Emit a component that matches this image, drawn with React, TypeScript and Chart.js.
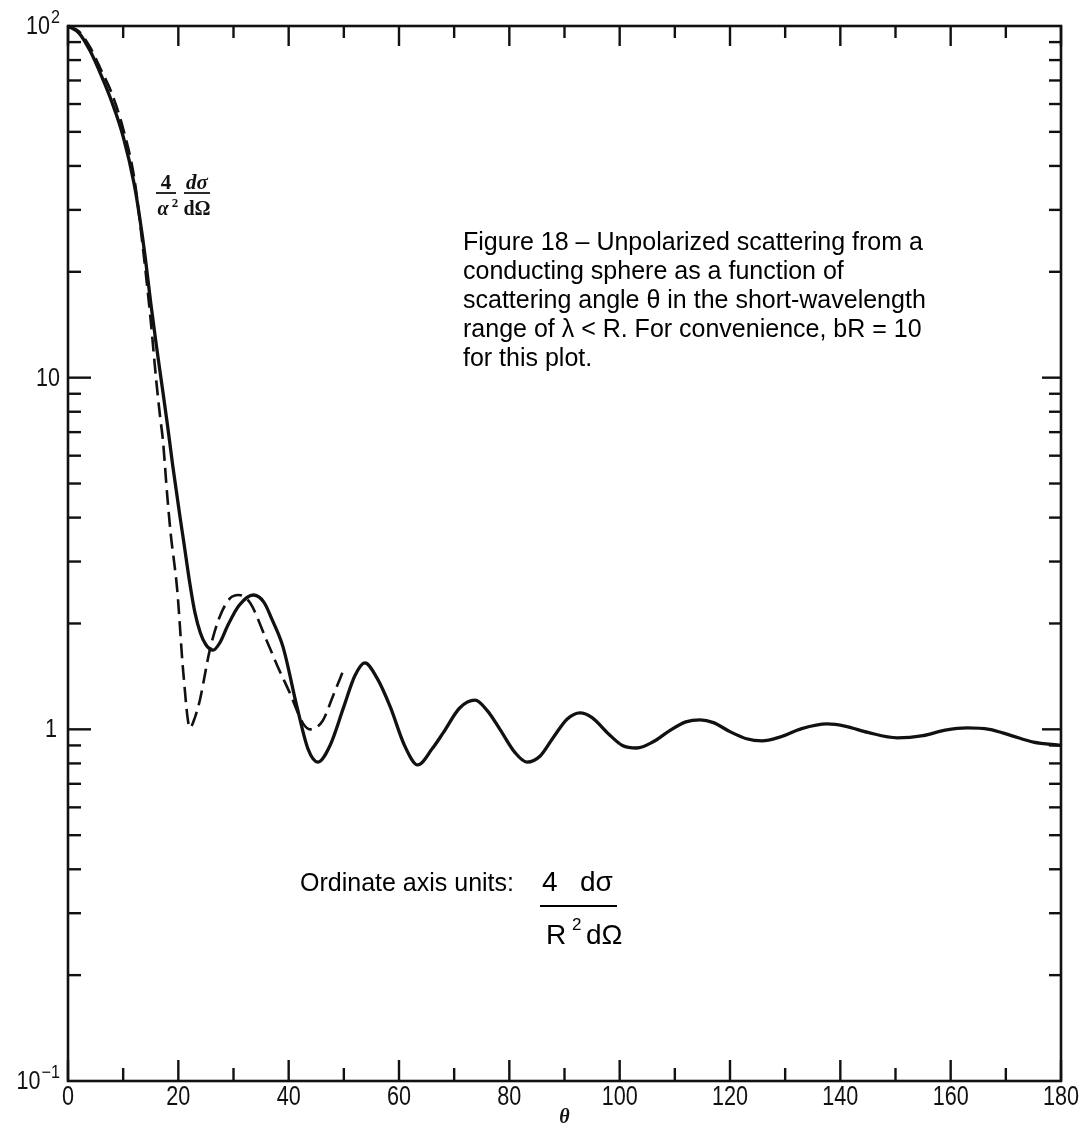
import React, { useEffect, useRef } from "react";
import { Chart, registerables } from "chart.js";

Chart.register(...registerables);

// ---- data ----
const THETA_SOLID = [0, 2, 4, 6, 8, 10, 12, 13, 14, 15, 16, 17, 18, 19, 20.3, 21, 22, 23, 24, 25, 26.3, 27.5, 29, 31, 33.6, 35.5, 37, 39, 41.5, 43.5, 45.3, 47.5, 50, 52, 53.8, 56, 58.4, 61, 63.4, 66, 68, 71, 73.8, 76, 78.3, 81, 83.2, 85.6, 88, 90.5, 92.8, 95, 98, 100.5, 103.1, 106, 109, 112, 114.6, 117, 120, 123, 125.8, 129, 133, 137.6, 141, 145, 150.3, 155, 159, 163, 167, 171, 175, 180];
const SOLID = [100, 95.5, 85, 72.5, 60.5, 48.5, 35.5, 28.5, 22, 16.3, 12.4, 9.6, 7.4, 5.6, 4.02, 3.4, 2.65, 2.15, 1.88, 1.74, 1.68, 1.76, 1.98, 2.25, 2.41, 2.3, 2.05, 1.71, 1.16, 0.88, 0.807, 0.9, 1.16, 1.42, 1.545, 1.4, 1.16, 0.9, 0.792, 0.88, 0.977, 1.15, 1.21, 1.13, 1.0, 0.86, 0.807, 0.84, 0.95, 1.07, 1.114, 1.08, 0.97, 0.9, 0.885, 0.92, 0.99, 1.05, 1.064, 1.045, 0.985, 0.94, 0.927, 0.95, 1.005, 1.036, 1.02, 0.98, 0.946, 0.96, 0.995, 1.01, 1.0, 0.96, 0.92, 0.9];

const THETA_DASHED = [0, 2, 4, 6, 8, 10, 12, 13.5, 15, 16, 16.7, 17.2, 18, 18.6, 19.8, 20.9, 22.1, 23, 23.9, 25.7, 27.5, 29.4, 30.9, 33, 36, 38, 40.2, 42.6, 43.9, 46.2, 48, 49.9];
const DASHED = [100, 96.5, 87, 75, 64, 51, 37, 24, 14.5, 9.8, 7.73, 6.65, 4.6, 3.62, 2.49, 1.45, 1.01, 1.08, 1.21, 1.68, 2.09, 2.36, 2.41, 2.29, 1.79, 1.51, 1.27, 1.04, 1.0, 1.06, 1.24, 1.47];

const X_MAJOR = [0, 20, 40, 60, 80, 100, 120, 140, 160, 180];
const X_MINOR = [10, 30, 50, 70, 90, 110, 130, 150, 170];
const X_LABELS = ["0", "20", "40", "60", "80", "100", "120", "140", "160", "180"];
const Y_DECADES = [0.1, 1, 10];
const Y_LABEL_VALUES = [100, 10, 1, 0.1];
const Y_LABEL_BASE = ["10", "10", "1", "10"];
const Y_LABEL_SUP = ["2", "", "", "\u22121"];

const CAPTION = [
  "Figure 18 \u2013 Unpolarized scattering from a",
  "conducting sphere as a function of",
  "scattering angle \u03b8 in the short-wavelength",
  "range of \u03bb < R. For convenience, bR = 10",
  "for this plot.",
];

const INK = "#111";
const SANS = '"Liberation Sans", Arial, sans-serif';
const SERIF = '"Liberation Serif", "DejaVu Serif", serif';

function drawScaled(ctx: CanvasRenderingContext2D, text: string, x: number, y: number, font: string, sx: number, align: string) {
  ctx.save();
  ctx.font = font;
  const w = ctx.measureText(text).width * sx;
  const x0 = align === "center" ? x - w / 2 : align === "right" ? x - w : x;
  ctx.translate(x0, y);
  ctx.scale(sx, 1);
  ctx.textAlign = "left";
  ctx.fillText(text, 0, 0);
  ctx.restore();
  return w;
}

const framePlugin = {
  id: "frame",
  afterDraw(chart: any) {
    const { ctx, chartArea, scales } = chart;
    const { left, right, top, bottom } = chartArea;
    const xs = scales.x;
    const ys = scales.y;
    ctx.save();
    ctx.strokeStyle = INK;
    ctx.fillStyle = INK;
    ctx.lineWidth = 2.6;
    ctx.lineCap = "butt";
    ctx.strokeRect(left, top, right - left, bottom - top);

    ctx.lineWidth = 2.4;
    const tick = (x1: number, y1: number, x2: number, y2: number) => {
      ctx.beginPath();
      ctx.moveTo(x1, y1);
      ctx.lineTo(x2, y2);
      ctx.stroke();
    };
    X_MAJOR.forEach((v) => {
      const px = xs.getPixelForValue(v);
      tick(px, bottom, px, bottom - 21);
      tick(px, top, px, top + 20);
    });
    X_MINOR.forEach((v) => {
      const px = xs.getPixelForValue(v);
      tick(px, bottom, px, bottom - 13);
      tick(px, top, px, top + 12);
    });
    Y_DECADES.forEach((d) => {
      for (let m = 1; m <= 9; m++) {
        if (d === 0.1 && m === 1) continue;
        const v = d * m;
        const py = ys.getPixelForValue(v);
        const major = m === 1;
        tick(left, py, left + (major ? 23 : 13), py);
        tick(right, py, right - (major ? 19 : 12), py);
      }
    });

    // x labels
    ctx.textBaseline = "middle";
    X_MAJOR.forEach((v, i) => {
      const px = xs.getPixelForValue(v);
      drawScaled(ctx, X_LABELS[i], px, bottom + 17, `27px ${SANS}`, 0.8, "center");
    });
    // y labels
    Y_LABEL_VALUES.forEach((v, i) => {
      const py = ys.getPixelForValue(v);
      const sup = Y_LABEL_SUP[i];
      let rx = left - 8;
      if (sup) {
        const w = drawScaled(ctx, sup, rx, py - 8, `18px ${SANS}`, 0.9, "right");
        rx -= w + 1;
      }
      if (!sup && Y_LABEL_BASE[i] === "1") rx = left - 11;
      drawScaled(ctx, Y_LABEL_BASE[i], rx, py + 1, `25px ${SANS}`, 0.86, "right");
    });

    // theta axis title
    ctx.font = `bold italic 20px ${SERIF}`;
    ctx.textAlign = "center";
    ctx.fillText("\u03b8", xs.getPixelForValue(90), bottom + 37);

    // in-plot y label: 4/α² dσ/dΩ
    ctx.textBaseline = "alphabetic";
    ctx.font = `bold 21px ${SERIF}`;
    ctx.fillText("4", 166, 189);
    ctx.font = `bold italic 20px ${SERIF}`;
    ctx.fillText("\u03b1", 163, 215);
    ctx.font = `bold 13px ${SERIF}`;
    ctx.fillText("2", 175, 207);
    ctx.font = `bold italic 21px ${SERIF}`;
    ctx.fillText("d\u03c3", 197, 189);
    ctx.font = `bold 20px ${SERIF}`;
    ctx.fillText("d\u03a9", 197, 215);
    ctx.lineWidth = 1.8;
    tick(156, 193, 176, 193);
    tick(184, 193, 210, 193);

    // caption
    ctx.textAlign = "left";
    ctx.font = `25px ${SANS}`;
    ctx.fillStyle = "#000";
    CAPTION.forEach((line, i) => {
      ctx.fillText(line, 463, 250 + i * 29);
    });

    // ordinate units
    ctx.fillText("Ordinate axis units:", 300, 891);
    ctx.font = `28px ${SANS}`;
    ctx.fillText("4", 542, 891);
    ctx.fillText("d\u03c3", 580, 891);
    ctx.lineWidth = 2;
    ctx.strokeStyle = "#000";
    tick(540, 906, 617, 906);
    ctx.fillText("R", 546, 944);
    ctx.font = `17px ${SANS}`;
    ctx.fillText("2", 572, 930);
    ctx.font = `28px ${SANS}`;
    ctx.fillText("d\u03a9", 586, 944);
    ctx.restore();
  },
};

export default function App() {
  const ref = useRef<HTMLCanvasElement>(null);
  useEffect(() => {
    if (!ref.current) return;
    const solidPts = THETA_SOLID.map((t, i) => ({ x: t, y: SOLID[i] }));
    const dashedPts = THETA_DASHED.map((t, i) => ({ x: t, y: DASHED[i] }));
    const chart = new Chart(ref.current, {
      type: "line",
      data: {
        datasets: [
          {
            data: solidPts,
            borderColor: INK,
            borderWidth: 3.3,
            pointRadius: 0,
            fill: false,
            cubicInterpolationMode: "monotone",
            clip: false,
          } as any,
          {
            data: dashedPts,
            borderColor: INK,
            borderWidth: 2.6,
            borderDash: [15, 7],
            pointRadius: 0,
            fill: false,
            cubicInterpolationMode: "monotone",
            clip: false,
          } as any,
        ],
      },
      options: {
        animation: false,
        responsive: false,
        devicePixelRatio: 1,
        events: [],
        layout: { padding: { left: 68, right: 25, top: 26, bottom: 47 } },
        plugins: { legend: { display: false }, tooltip: { enabled: false } },
        scales: {
          x: { type: "linear", min: 0, max: 180, display: false },
          y: { type: "logarithmic", min: 0.1, max: 100, display: false },
        },
      },
      plugins: [framePlugin],
    });
    return () => chart.destroy();
  }, []);
  return (
    <div style={{ position: "fixed", left: 0, top: 0, width: 1086, height: 1128, background: "#fff" }}>
      <canvas ref={ref} width={1086} height={1128} style={{ width: 1086, height: 1128, display: "block" }} />
    </div>
  );
}
